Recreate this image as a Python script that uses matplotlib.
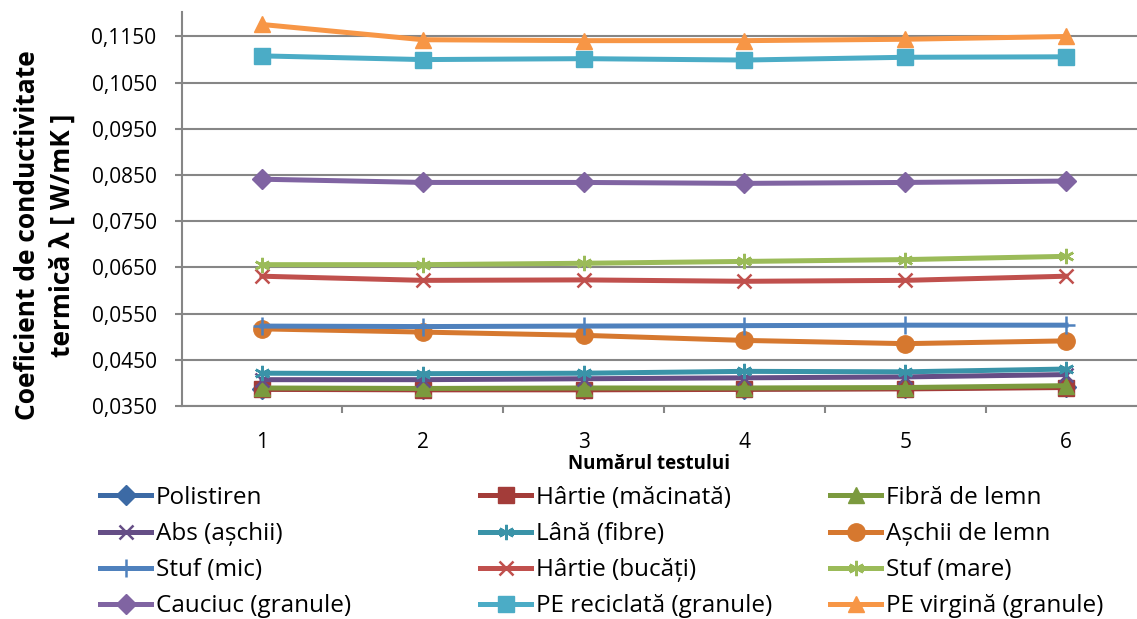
import matplotlib
matplotlib.use("Agg")
import matplotlib.pyplot as plt
from matplotlib.ticker import FuncFormatter, FixedLocator

tests = [1, 2, 3, 4, 5, 6]
names = ["Polistiren", "Hârtie (măcinată)", "Fibră de lemn",
         "Abs (așchii)", "Lână (fibre)", "Așchii de lemn",
         "Stuf (mic)", "Hârtie (bucăți)", "Stuf (mare)",
         "Cauciuc (granule)", "PE reciclată (granule)", "PE virgină (granule)"]

polistiren = [0.0387, 0.0386, 0.0387, 0.0387, 0.0388, 0.0392]
hartie_macinata = [0.0386, 0.0385, 0.0385, 0.0386, 0.0387, 0.0390]
fibra_lemn = [0.0389, 0.0388, 0.0389, 0.0389, 0.0390, 0.0394]
abs_aschii = [0.0407, 0.0407, 0.0409, 0.0411, 0.0413, 0.0418]
lana = [0.0421, 0.0420, 0.0421, 0.0425, 0.0424, 0.0430]
aschii_lemn = [0.0517, 0.0510, 0.0503, 0.0492, 0.0485, 0.0491]
stuf_mic = [0.0523, 0.0522, 0.0523, 0.0524, 0.0525, 0.0525]
hartie_bucati = [0.0631, 0.0622, 0.0623, 0.0620, 0.0622, 0.0631]
stuf_mare = [0.0656, 0.0656, 0.0659, 0.0663, 0.0667, 0.0674]
cauciuc = [0.0841, 0.0834, 0.0834, 0.0832, 0.0834, 0.0837]
pe_reciclata = [0.1108, 0.1100, 0.1102, 0.1099, 0.1105, 0.1106]
pe_virgina = [0.1176, 0.1143, 0.1141, 0.1141, 0.1144, 0.1150]

series = [polistiren, hartie_macinata, fibra_lemn, abs_aschii, lana, aschii_lemn,
          stuf_mic, hartie_bucati, stuf_mare, cauciuc, pe_reciclata, pe_virgina]

colors = ["#3C6AA5", "#A33C39", "#7B9A3E", "#654E86", "#3A93A8", "#D6782F",
          "#4F81BD", "#C0504D", "#9BBB59", "#8064A2", "#4BACC6", "#F79646"]
asterisk = (6, 2, 0)
markers = ["D", "s", "^", "x", asterisk, "o", "+", "x", asterisk, "D", "s", "^"]
msizes = [10, 12, 12, 10, 11, 12.5, 13, 10, 11, 10, 12, 12]

plt.rcParams['font.family'] = ['Open Sans', 'DejaVu Sans']

fig = plt.figure(figsize=(11.37, 6.19), dpi=100)
ax = fig.add_axes([0.1597, 0.3441, 0.8486, 0.6365])

handles = []
for vals, name, c, m, ms in zip(series, names, colors, markers, msizes):
    h, = ax.plot(tests, vals, color=c, lw=3.6, marker=m, markersize=ms,
                 markeredgewidth=1.8 if m in ("x", "+", asterisk) else 1.0,
                 markeredgecolor=c, markerfacecolor=c, label=name,
                 solid_joinstyle="round")
    handles.append(h)

ax.set_xlim(0.5, 6.5)
ax.set_ylim(0.035, 0.1203)
yt = [0.035 + 0.01 * k for k in range(9)]
ax.set_yticks(yt)
ax.yaxis.set_major_formatter(FuncFormatter(lambda v, p: f"{v:.4f}".replace(".", ",")))
ax.set_xticks(tests)
ax.set_xticklabels([str(t) for t in tests])
ax.xaxis.set_minor_locator(FixedLocator([1.5, 2.5, 3.5, 4.5, 5.5, 6.5]))
ax.tick_params(axis="x", which="major", length=0, labelsize=15, pad=19)
ax.tick_params(axis="x", which="minor", length=5, width=1.5, color="#868686")
ax.tick_params(axis="y", length=5, width=1.5, color="#868686", labelsize=15, pad=13)

ax.grid(axis="y", color="#868686", lw=1.5)
ax.set_axisbelow(True)
for s in ["top", "right"]:
    ax.spines[s].set_visible(False)
for s in ["left", "bottom"]:
    ax.spines[s].set_color("#868686")
    ax.spines[s].set_linewidth(1.5)

ax.set_xlabel("Numărul testului", fontsize=13.5, fontweight="bold")
ax.xaxis.set_label_coords(0.4845, -0.147)
ax.xaxis.label.set_verticalalignment("center")
ax.set_ylabel("Coeficient de conductivitate\ntermică λ [ W/mK ]", fontsize=19,
              fontweight="bold", linespacing=1.4, va="center", ha="center")
ax.yaxis.set_label_coords(-0.1416, 0.434)

col_x = [100, 480, 830]
for c in range(3):
    idx = [c + 3 * r for r in range(4)]
    fig.legend([handles[i] for i in idx], [names[i] for i in idx],
               loc="upper left", bbox_to_anchor=(col_x[c] / 1137, 1 - 486 / 619),
               ncol=1, frameon=False, fontsize=17.5, handlelength=2.1,
               handletextpad=0.2, labelspacing=0.5, borderaxespad=0,
               borderpad=0)

fig.savefig("out.png", dpi=100)
